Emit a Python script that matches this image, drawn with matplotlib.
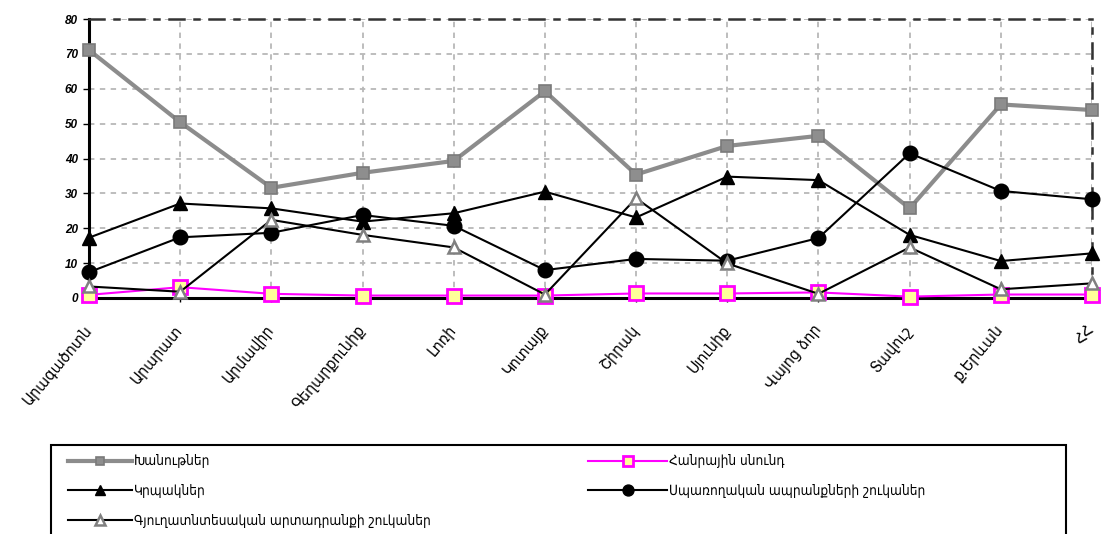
import matplotlib.pyplot as plt
from matplotlib.patches import Rectangle
from matplotlib.transforms import ScaledTranslation

# marzer
regions = ['Արագածոտն', 'Արարատ', 'Արմավիր', 'Գեղարքունիք', 'Լոռի', 'Կոտայք',
           'Շիրակ', 'Սյունիք', 'Վայոց ձոր', 'Տավուշ', 'ք.Երևան', 'ՀՀ']

khanutner = [71.1, 50.4, 31.6, 35.9, 39.3, 59.3, 35.4, 43.6, 46.5, 25.7, 55.5, 53.9]
hanrayin = [0.9, 3.1, 1.2, 0.7, 0.7, 0.7, 1.3, 1.3, 1.6, 0.4, 1.0, 1.0]
krpakner = [17.3, 27.1, 25.7, 21.9, 24.3, 30.5, 23.1, 34.8, 33.8, 18.1, 10.6, 12.8]
sparoghakan = [7.4, 17.4, 18.7, 23.8, 20.7, 8.0, 11.2, 10.7, 17.2, 41.5, 30.7, 28.3]
gyugh = [3.3, 1.8, 22.4, 18.1, 14.5, 1.0, 28.6, 9.9, 1.2, 14.5, 2.5, 4.2]

labels = ['Խանութներ', 'Հանրային սնունդ', 'Կրպակներ',
          'Սպառողական ապրանքների շուկաներ', 'Գյուղատնտեսական արտադրանքի շուկաներ']
yticks = [0, 10, 20, 30, 40, 50, 60, 70, 80]

cond = ['DejaVu Sans Condensed', 'DejaVu Sans']
plt.rcParams['font.family'] = ['DejaVu Sans']

fig = plt.figure(figsize=(11.01, 5.34), dpi=100)
ax = fig.add_axes([89 / 1101, 1 - 298 / 534, (1092 - 89) / 1101, (298 - 19) / 534])

x = list(range(len(regions)))

styles = [
    dict(color='#8c8c8c', lw=3.0, marker='s', ms=8.5, mfc='#8e8e8e', mec='#7a7a7a', mew=1.2),
    dict(color='#ff00ff', lw=1.5, marker='s', ms=10, mfc='#ffff99', mec='#ff00ff', mew=2),
    dict(color='black', lw=1.5, marker='^', ms=10.5, mfc='black', mec='black'),
    dict(color='black', lw=1.5, marker='o', ms=10.5, mfc='black', mec='black'),
    dict(color='black', lw=1.5, marker='^', ms=9, mfc='white', mec='#808080', mew=1.8),
]
series = [khanutner, hanrayin, krpakner, sparoghakan, gyugh]
handles = []
for i, (vals, st) in enumerate(zip(series, styles)):
    ln, = ax.plot(x, vals, clip_on=False, zorder=3 + i, **st)
    handles.append(ln)

ax.set_xlim(0, len(regions) - 1)
ax.set_ylim(0, 80)
ax.set_yticks(yticks)
ax.set_yticklabels([str(v) for v in yticks], fontsize=8.5, fontweight='bold',
                   fontstyle='italic', family='Liberation Sans')
ax.set_xticks(x)
ax.set_xticklabels(regions, rotation=50, ha='right', va='center', rotation_mode='anchor',
                   fontsize=11.5, family=cond, fontstretch='condensed')
shift = ScaledTranslation(-5 / 72, 0, fig.dpi_scale_trans)
for lab in ax.get_xticklabels():
    lab.set_transform(lab.get_transform() + shift)
ax.tick_params(axis='x', length=3, width=1, pad=18)
ax.tick_params(axis='y', length=4, width=1, pad=4)

ax.grid(True, color='#b8b8b8', linestyle=(0, (3, 3)), linewidth=1.3)
ax.set_axisbelow(True)
for s in ['left', 'bottom']:
    ax.spines[s].set_linewidth(2.2)
    ax.spines[s].set_color('black')
for s in ['top', 'right']:
    ax.spines[s].set_linewidth(1.8)
    ax.spines[s].set_color('#333333')
    ax.spines[s].set_linestyle((0, (6, 4, 2, 4)))

# legend frame
fig.add_artist(Rectangle((51 / 1101, 1 - 560 / 534), (1066 - 51) / 1101, (560 - 445) / 534,
                         transform=fig.transFigure, fill=False, ec='black', lw=1.5))

leg_font = dict(family=cond, size=9.8, stretch='condensed')
col1 = [handles[0], handles[2], handles[4]]
col2 = [handles[1], handles[3]]
fig.legend(col1, [labels[0], labels[2], labels[4]], loc='upper left',
           bbox_to_anchor=(63 / 1101, 1 - 449 / 534), frameon=False, prop=leg_font,
           handlelength=4.7, handletextpad=0.1, labelspacing=1.15, borderaxespad=0, markerscale=0.75)
fig.legend(col2, [labels[1], labels[3]], loc='upper left',
           bbox_to_anchor=(583 / 1101, 1 - 449 / 534), frameon=False, prop=leg_font,
           handlelength=5.8, handletextpad=0.1, labelspacing=1.15, borderaxespad=0, markerscale=0.75)

fig.savefig('out.png', dpi=100)
